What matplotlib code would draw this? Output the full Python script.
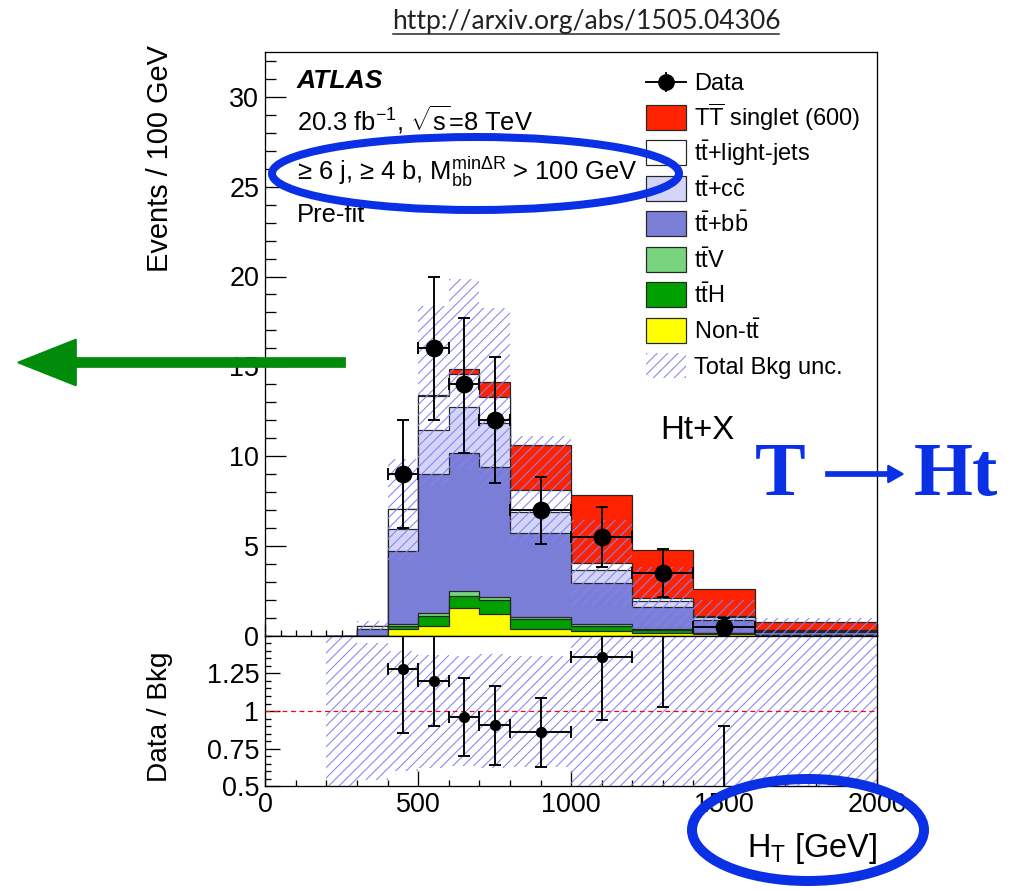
# -*- coding: utf-8 -*-
"""
HT spectrum in the >= 6 j, >= 4 b, Ht+X channel (pre-fit)
Stacked backgrounds + TTbar singlet (600) signal, Data/Bkg ratio pad below.
"""

#-----------------------------------LIBRARIES:
import numpy as np
import matplotlib
matplotlib.use("Agg")
import matplotlib.pyplot as plt
from matplotlib.patches import Rectangle, Ellipse, FancyArrow
from matplotlib.lines import Line2D
from matplotlib.transforms import Affine2D
from matplotlib.ticker import MultipleLocator

plt.rcParams["font.family"] = ["Liberation Sans", "DejaVu Sans"]
plt.rcParams["mathtext.fontset"] = "custom"
plt.rcParams["mathtext.rm"] = "Liberation Sans"
plt.rcParams["mathtext.it"] = "Liberation Sans:italic"
plt.rcParams["mathtext.bf"] = "Liberation Sans:bold"
plt.rcParams["mathtext.sf"] = "Liberation Sans"
plt.rcParams["hatch.linewidth"] = 0.6


#-----------------------------------DATA (events / 100 GeV):
ht_edges = [200, 300, 400, 500, 600, 700, 800, 1000, 1200, 1400, 1600, 1800, 2000]

non_tt   = [0, 0.00, 0.35, 0.54, 1.56, 1.19, 0.37, 0.24, 0.15, 0.07, 0.03, 0.03]
tt_h     = [0, 0.00, 0.21, 0.55, 0.65, 0.80, 0.54, 0.28, 0.17, 0.06, 0.02, 0.02]
tt_v     = [0, 0.00, 0.07, 0.15, 0.28, 0.14, 0.15, 0.13, 0.05, 0.02, 0.01, 0.01]
tt_bb    = [0, 0.35, 4.08, 7.74, 7.70, 7.24, 4.67, 2.28, 1.24, 0.72, 0.17, 0.17]
tt_cc    = [0, 0.05, 1.21, 2.50, 2.56, 2.49, 1.17, 0.74, 0.34, 0.15, 0.04, 0.04]
tt_light = [0, 0.15, 1.11, 1.86, 1.80, 1.41, 1.24, 0.37, 0.15, 0.09, 0.04, 0.04]
signal   = [0, 0.00, 0.00, 0.05, 0.29, 0.87, 2.47, 3.79, 2.67, 1.49, 0.47, 0.47]
bkg_unc  = [0.05, 0.25, 2.8, 5.0, 5.3, 5.0, 3.0, 2.4, 1.7, 0.85, 0.7, 0.7]

data    = [0, 0, 9, 16, 14, 12, 7, 5.5, 3.5, 0.5, 0, 0]
data_lo = [0, 0, 3.0, 4.0, 3.8, 3.5, 1.9, 1.7, 1.34, 0.5, 0, 0]
data_hi = [0, 0, 3.0, 4.0, 3.7, 3.5, 1.85, 1.65, 1.32, 0.5, 0, 0]

# stack, bottom -> top : (values, fill colour, legend label)
stack = [
    (non_tt,   "#ffff00", r"Non-$\mathrm{t\bar{t}}$"),
    (tt_h,     "#00a000", r"$\mathrm{t\bar{t}H}$"),
    (tt_v,     "#78d47e", r"$\mathrm{t\bar{t}V}$"),
    (tt_bb,    "#7a7ed6", r"$\mathrm{t\bar{t}}$+$\mathrm{b\bar{b}}$"),
    (tt_cc,    "#d3d4f8", r"$\mathrm{t\bar{t}}$+$\mathrm{c\bar{c}}$"),
    (tt_light, "#ffffff", r"$\mathrm{t\bar{t}}$+light-jets"),
    (signal,   "#ff2200", r"$\mathrm{T\overline{T}}$ singlet (600)"),
]

HATCH = "#8484f4"
HATCH_STYLE = "////"
EDGE = "#262626"
BLUE = "#0a30e6"
GREEN = "#008c0a"


#-----------------------------------DERIVED:
edges = np.array(ht_edges, dtype=float)
centers = 0.5 * (edges[1:] + edges[:-1])
halfw = 0.5 * np.diff(edges)
cum = np.cumsum([np.array(s[0], dtype=float) for s in stack], axis=0)
bkg = cum[-2]                       # everything except the signal
unc = np.array(bkg_unc)
rel_unc = np.divide(unc, bkg, out=np.full_like(bkg, 10.0), where=bkg > 0)
d = np.array(data, dtype=float)
dlo = np.array(data_lo)
dhi = np.array(data_hi)
has_data = d > 0


#-----------------------------------FIGURE (sizes given in pixels):
W, H, DPI = 1014, 890, 125
def pt(p):
    return p * 72.0 / DPI

fig = plt.figure(figsize=(W / DPI, H / DPI), dpi=DPI)
px = Affine2D().scale(1.0 / W, -1.0 / H).translate(0, 1) + fig.transFigure

def box(x0, y0, x1, y1):
    return [x0 / W, 1 - y1 / H, (x1 - x0) / W, (y1 - y0) / H]

ax = fig.add_axes(box(265.3, 52, 877, 635.7))
rax = fig.add_axes(box(265.3, 635.7, 877, 786.4))


#-----------------------------------MAIN PAD:
for k in reversed(range(len(stack))):
    ax.stairs(cum[k], edges, fill=True, facecolor=stack[k][1],
              edgecolor=EDGE, linewidth=0.7, zorder=2)

ax.bar(centers, 2 * unc, bottom=bkg - unc, width=2 * halfw, fill=False,
       hatch=HATCH_STYLE, edgecolor=HATCH, linewidth=0, zorder=3)

ax.errorbar(centers[has_data], d[has_data], xerr=halfw[has_data],
            yerr=[dlo[has_data], dhi[has_data]], fmt="o", color="black",
            ms=pt(16), elinewidth=1.1, capsize=pt(6), capthick=1.1, zorder=5)

ax.set_xlim(0, 2000)
ax.set_ylim(0, 32.5)
ax.xaxis.set_major_locator(MultipleLocator(500))
ax.xaxis.set_minor_locator(MultipleLocator(50))
ax.yaxis.set_major_locator(MultipleLocator(5))
ax.yaxis.set_minor_locator(MultipleLocator(1))
ax.tick_params(which="both", direction="in", top=False, right=False,
               labelbottom=False, labelsize=pt(27), width=0.75, pad=pt(6))
ax.tick_params(axis="y", which="major", length=pt(21))
ax.tick_params(axis="y", which="minor", length=pt(11))
ax.tick_params(axis="x", which="major", length=pt(12))
ax.tick_params(axis="x", which="minor", length=pt(6))
for s in ax.spines.values():
    s.set_linewidth(0.75)


#-----------------------------------RATIO PAD:
rax.bar(centers, 2 * rel_unc, bottom=1 - rel_unc, width=2 * halfw, fill=False,
        hatch=HATCH_STYLE, edgecolor=HATCH, linewidth=0, zorder=2)
rax.axhline(1, color="red", linewidth=0.7, dashes=(4, 3), zorder=3)

ratio = d / np.where(bkg > 0, bkg, 1)
rax.errorbar(centers[has_data], ratio[has_data], xerr=halfw[has_data],
             yerr=[dlo[has_data] / bkg[has_data], dhi[has_data] / bkg[has_data]],
             fmt="o", color="black", ms=pt(9.5), elinewidth=1.1,
             capsize=pt(6), capthick=1.1, zorder=5)

rax.set_xlim(0, 2000)
rax.set_ylim(0.5, 1.5)
rax.set_yticks([0.5, 0.75, 1, 1.25])
rax.set_yticklabels(["0.5", "0.75", "1", "1.25"])
rax.yaxis.set_minor_locator(MultipleLocator(0.05))
rax.xaxis.set_major_locator(MultipleLocator(500))
rax.xaxis.set_minor_locator(MultipleLocator(100))
rax.tick_params(which="both", direction="in", top=False, right=False,
                labelsize=pt(27), width=0.75, pad=pt(6))
rax.tick_params(which="major", length=pt(15))
rax.tick_params(which="minor", length=pt(6))
for s in rax.spines.values():
    s.set_linewidth(0.75)


#-----------------------------------AXIS TITLES + LABELS:
fig.text(160, 45, "Events / 100 GeV", transform=px, rotation=90,
         ha="center", va="top", fontsize=pt(29))
fig.text(160, 717, "Data / Bkg", transform=px, rotation=90,
         ha="center", va="center", fontsize=pt(28))
fig.text(877, 857, r"H$_{\mathrm{T}}$ [GeV]", transform=px,
         ha="right", va="baseline", fontsize=pt(32.5))

fig.text(297, 88, "ATLAS", transform=px, weight="bold", style="italic",
         fontsize=pt(26.5), va="baseline")
fig.text(297, 131, r"20.3 fb$^{\mathrm{-1}}$, $\sqrt{\mathrm{s}}$=8 TeV",
         transform=px, fontsize=pt(25.5), va="baseline")
fig.text(297, 180, "\u2265 6 j, \u2265 4 b, " + r"$\mathrm{M_{bb}^{min\Delta R}}$ > 100 GeV",
         transform=px, fontsize=pt(25.5), va="baseline")
fig.text(297, 222, "Pre-fit", transform=px, fontsize=pt(25.5), va="baseline")
fig.text(660, 439, "Ht+X", transform=px, fontsize=pt(33), va="baseline")


#-----------------------------------LEGEND:
row0, dy = 81.7, 35.5
x0, x1, hbox = 645.7, 686.0, 25.0
xm = 0.5 * (x0 + x1)
fig.add_artist(Line2D([x0, x1], [row0, row0], transform=px, color="black", lw=1.1))
fig.add_artist(Line2D([xm, xm], [row0 - 9, row0 + 9], transform=px, color="black", lw=1.1))
fig.add_artist(Line2D([xm], [row0], transform=px, marker="o", ms=pt(15), color="black"))
fig.text(694.5, row0 + 8.5, "Data", transform=px, fontsize=pt(23.7), va="baseline")

entries = [(c, lab) for _, c, lab in reversed(stack)]
for i, (col, lab) in enumerate(entries):
    yc = row0 + dy * (i + 1)
    fig.add_artist(Rectangle((x0, yc - hbox / 2), x1 - x0, hbox, transform=px,
                             facecolor=col, edgecolor=EDGE, lw=0.7, zorder=4))
    fig.text(694.5, yc + 8.5, lab, transform=px, fontsize=pt(23.7), va="baseline")

yc = row0 + dy * (len(entries) + 1)
fig.add_artist(Rectangle((x0, yc - hbox / 2), x1 - x0, hbox, transform=px,
                         fill=False, hatch=HATCH_STYLE, edgecolor=HATCH, lw=0, zorder=4))
fig.text(694.5, yc + 8.5, "Total Bkg unc.", transform=px, fontsize=pt(23.7), va="baseline")


#-----------------------------------NOTES DRAWN ON TOP:
fig.text(586, 29, "http://arxiv.org/abs/1505.04306", transform=px, ha="center",
         va="baseline", family=["Lato", "DejaVu Sans"], fontsize=pt(26.5), color="#222222")
fig.add_artist(Line2D([393, 779], [33.5, 33.5], transform=px, color="#222222", lw=pt(1.5)))

fig.add_artist(Ellipse((475.5, 173.5), 407, 73, transform=px, fill=False,
                       edgecolor=BLUE, lw=pt(8), zorder=10))
fig.add_artist(Ellipse((808, 830), 232, 102, transform=px, fill=False,
                       edgecolor=BLUE, lw=pt(10), zorder=10))
fig.add_artist(FancyArrow(345, 362.5, -327, 0, width=9, head_width=46, head_length=58,
                          length_includes_head=True, transform=px, color=GREEN, zorder=10))

# T -> Ht : the two words plus a thin arrow between them
serif = ["Liberation Serif", "DejaVu Serif"]
fig.text(755, 495, "T", transform=px, family=serif, weight="bold",
         fontsize=pt(76), color=BLUE, va="baseline", zorder=10)
fig.add_artist(FancyArrow(826, 474, 77, 0, width=4, head_width=17, head_length=15,
                          length_includes_head=True, transform=px, color=BLUE, zorder=10))
fig.text(914, 495, "Ht", transform=px, family=serif, weight="bold",
         fontsize=pt(76), color=BLUE, va="baseline", zorder=10)

plt.savefig("out.png", dpi=DPI)
